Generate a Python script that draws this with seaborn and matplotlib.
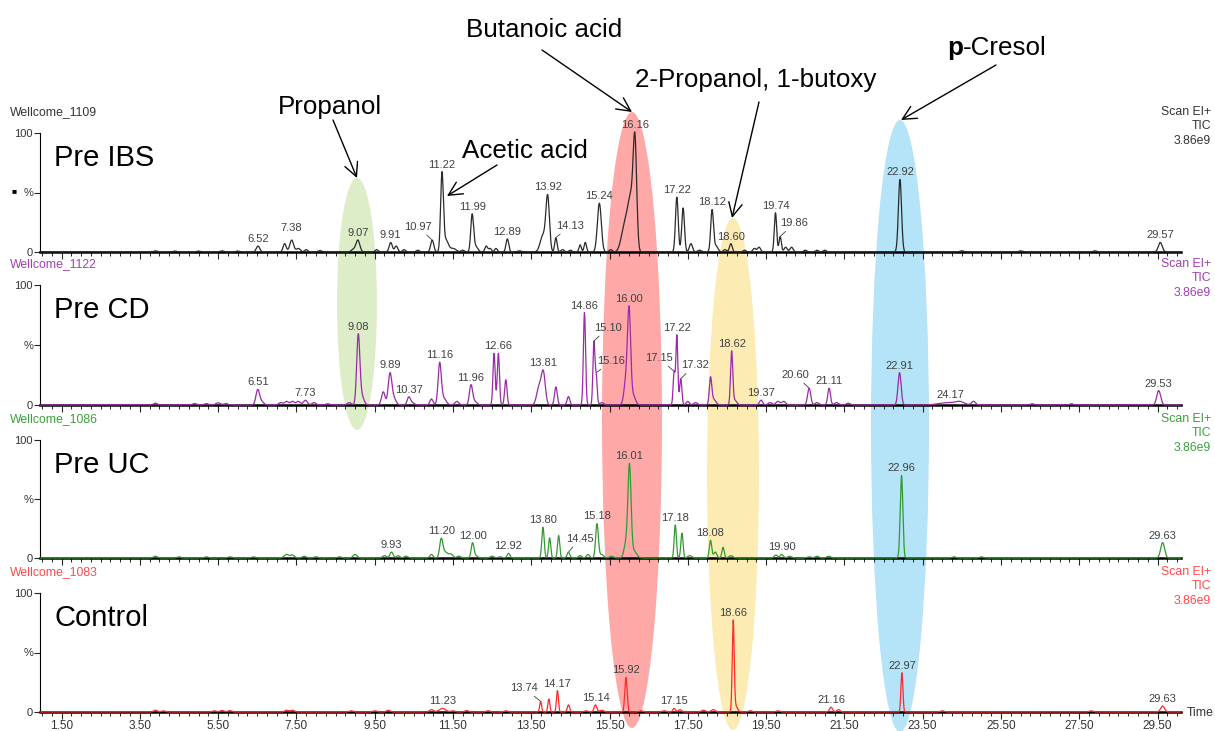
import numpy as np
import pandas as pd
import matplotlib
matplotlib.use("Agg")
import matplotlib.pyplot as plt
import seaborn as sns
from matplotlib.patches import Ellipse

# ------------------------------------------------------------------ data
sample_ids = ["Wellcome_1109", "Wellcome_1122", "Wellcome_1086", "Wellcome_1083"]
group_names = ["Pre IBS", "Pre CD", "Pre UC", "Control"]
scan_lines = ["Scan EI+", "TIC", "3.86e9"]
x_tick_values = [1.5, 3.5, 5.5, 7.5, 9.5, 11.5, 13.5, 15.5, 17.5, 19.5, 21.5, 23.5, 25.5, 27.5, 29.5]
x_tick_labels = ["1.50", "3.50", "5.50", "7.50", "9.50", "11.50", "13.50", "15.50",
                 "17.50", "19.50", "21.50", "23.50", "25.50", "27.50", "29.50"]
y_tick_values = [0, 50, 100]
y_tick_labels = ["0", "%", "100"]

# Pre IBS (Wellcome_1109): retention time (min), relative height (%), peak width (min)
ibs_rt = [3.9, 4.4, 5.0, 5.6, 6.0, 6.52, 7.20, 7.38, 7.55, 7.75, 8.1, 8.95, 9.07, 9.55, 9.91,
          10.05, 10.25, 10.6, 10.97, 11.22, 11.32, 11.5, 11.75, 11.99, 12.07, 12.35, 12.45, 12.6,
          12.89, 13.2, 13.8, 13.92, 14.13, 14.3, 14.5, 14.75, 14.88, 15.24, 15.53, 15.82, 15.92,
          16.05, 16.15, 17.22, 17.38, 17.58, 17.8, 18.12, 18.22, 18.45, 18.60, 18.95, 19.2, 19.32,
          19.74, 19.86, 20.0, 20.15, 20.5, 20.8, 21.0, 22.92, 24.5, 26.0, 27.9, 29.57]
ibs_h = [1.0, 0.8, 0.8, 1.0, 0.8, 5, 7, 10, 3, 2, 1.2, 2, 10, 2, 8,
         5, 2, 1.5, 10, 65, 10, 3, 1.5, 30, 5, 5, 3, 3,
         11, 1, 14, 45, 12, 2, 1.5, 6, 8, 41, 2, 6, 22,
         40, 85, 46, 37, 7, 1.5, 35, 5, 2, 7, 1.5, 3, 4,
         33, 13, 4, 4, 1.5, 1.5, 1.5, 61, 1, 1, 1, 8]
ibs_w = [0.05, 0.05, 0.05, 0.05, 0.05, 0.045, 0.04, 0.05, 0.05, 0.04, 0.05, 0.05, 0.05, 0.04, 0.04,
         0.04, 0.04, 0.04, 0.04, 0.035, 0.06, 0.08, 0.04, 0.035, 0.06, 0.035, 0.035, 0.035,
         0.035, 0.05, 0.07, 0.045, 0.03, 0.04, 0.04, 0.03, 0.03, 0.05, 0.04, 0.07, 0.08,
         0.07, 0.045, 0.035, 0.035, 0.04, 0.05, 0.035, 0.05, 0.04, 0.035, 0.04, 0.04, 0.04,
         0.03, 0.03, 0.04, 0.04, 0.04, 0.04, 0.04, 0.04, 0.05, 0.05, 0.05, 0.05]
ibs_labels = [6.52, 7.38, 9.07, 9.91, 10.97, 11.22, 11.99, 12.89, 13.92, 14.13, 15.24, 16.16,
              17.22, 18.12, 18.60, 19.74, 19.86, 22.92, 29.57]

# Pre CD (Wellcome_1122)
cd_rt = [3.9, 4.9, 5.2, 5.5, 5.7, 6.51, 6.6, 7.1, 7.25, 7.4, 7.55, 7.73, 7.95, 8.3, 8.85,
         9.08, 9.16, 9.72, 9.89, 9.98, 10.37, 10.45, 10.95, 11.16, 11.25, 11.6, 11.96, 12.05,
         12.55, 12.66, 12.85, 13.7, 13.81, 14.13, 14.45, 14.86, 15.10, 15.16, 15.3, 15.92,
         16.00, 16.1, 17.15, 17.22, 17.32, 17.5, 17.7, 18.08, 18.15, 18.62, 18.7, 19.37, 19.6,
         19.8, 19.95, 20.60, 20.8, 21.11, 21.3, 21.6, 22.91, 24.17, 24.45, 24.8, 26.3, 27.3, 29.53]
cd_h = [1.5, 1.2, 1.2, 1.8, 1.2, 12, 3, 2, 3, 3, 3, 4, 2, 1, 2,
        56, 8, 11, 25, 6, 6, 2, 5, 33, 6, 3, 16, 3,
        43, 43, 21, 15, 26, 15, 7, 77, 52, 24, 2, 20,
        75, 8, 27, 58, 22, 3, 2, 21, 5, 44, 4, 4, 2,
        3, 3, 14, 2, 14, 2, 1.5, 27, 2, 2, 3, 1, 1, 12]
cd_w = [0.05, 0.05, 0.05, 0.06, 0.05, 0.045, 0.06, 0.05, 0.05, 0.05, 0.05, 0.05, 0.05, 0.05, 0.05,
        0.04, 0.06, 0.045, 0.045, 0.06, 0.04, 0.06, 0.04, 0.04, 0.07, 0.05, 0.04, 0.06,
        0.028, 0.028, 0.03, 0.06, 0.05, 0.035, 0.035, 0.028, 0.025, 0.025, 0.05, 0.05,
        0.04, 0.06, 0.025, 0.025, 0.028, 0.04, 0.05, 0.03, 0.06, 0.028, 0.05, 0.04, 0.05,
        0.05, 0.05, 0.04, 0.05, 0.035, 0.05, 0.05, 0.04, 0.25, 0.1, 0.05, 0.05, 0.05, 0.05]
cd_labels = [6.51, 7.73, 9.08, 9.89, 10.37, 11.16, 11.96, 12.66, 13.81, 14.86, 15.10, 15.16,
             16.00, 17.15, 17.22, 17.32, 18.62, 19.37, 20.60, 21.11, 22.91, 24.17, 29.53]

# Pre UC (Wellcome_1086)
uc_rt = [3.9, 4.5, 5.2, 5.8, 6.4, 7.25, 7.4, 7.7, 8.0, 8.6, 9.0, 9.75, 9.93, 10.1, 10.3,
         10.95, 11.20, 11.3, 11.45, 11.65, 12.00, 12.07, 12.5, 12.7, 12.92, 13.80, 13.97,
         14.2, 14.45, 14.75, 14.95, 15.18, 15.3, 15.55, 15.92, 16.01, 16.12, 17.18, 17.35,
         17.55, 18.08, 18.2, 18.4, 18.6, 19.75, 19.90, 20.1, 20.6, 20.8, 21.1, 22.96, 24.3,
         25.0, 29.63]
uc_h = [1.5, 1.0, 1.0, 1.0, 1.0, 3, 2.5, 1.5, 1, 1, 3, 2, 5, 2, 1.5,
        3, 15, 5, 3, 1.5, 12, 2, 1.5, 1, 4, 26, 17,
        19, 5, 2, 3, 29, 3, 1.5, 12, 76, 6, 28, 21,
        2, 15, 5, 9, 2, 2.5, 3, 1.5, 1, 1.5, 1.5, 70, 1,
        1, 13]
uc_w = [0.05, 0.05, 0.05, 0.05, 0.05, 0.06, 0.05, 0.05, 0.05, 0.05, 0.05, 0.05, 0.04, 0.04, 0.05,
        0.04, 0.04, 0.07, 0.05, 0.05, 0.035, 0.06, 0.05, 0.05, 0.035, 0.03, 0.028,
        0.028, 0.035, 0.04, 0.04, 0.035, 0.05, 0.05, 0.05, 0.04, 0.07, 0.028, 0.028,
        0.05, 0.03, 0.04, 0.03, 0.05, 0.04, 0.04, 0.05, 0.05, 0.05, 0.05, 0.033, 0.05,
        0.05, 0.05]
uc_labels = [9.93, 11.20, 12.00, 12.92, 13.80, 14.45, 15.18, 16.01, 17.18, 18.08, 19.90, 22.96, 29.63]

# Control (Wellcome_1083)
ctl_rt = [3.9, 4.1, 5.4, 5.6, 5.8, 7.25, 7.4, 8.9, 9.5, 9.85, 10.95, 11.23, 11.5, 11.85,
          12.4, 12.85, 13.74, 13.95, 14.17, 14.45, 14.9, 15.14, 15.3, 15.92, 16.3, 16.9,
          17.15, 17.3, 17.9, 18.15, 18.66, 18.72, 19.1, 19.8, 21.16, 21.35, 22.97, 24.0,
          27.8, 29.63]
ctl_h = [1.5, 1, 1, 1.2, 1.2, 1.5, 1.5, 1, 1, 1.5, 2, 3, 1, 1.2,
         1, 1, 9, 11, 18, 6, 1, 6, 1.5, 29, 1, 1,
         3, 2, 1.5, 2, 75, 5, 1, 1, 4, 2, 33, 1,
         1, 5]
ctl_w = [0.05, 0.05, 0.05, 0.05, 0.05, 0.05, 0.05, 0.05, 0.05, 0.05, 0.05, 0.08, 0.05, 0.05,
         0.05, 0.05, 0.025, 0.025, 0.025, 0.03, 0.05, 0.035, 0.05, 0.03, 0.05, 0.05,
         0.035, 0.04, 0.05, 0.05, 0.025, 0.05, 0.05, 0.05, 0.04, 0.04, 0.025, 0.05,
         0.05, 0.05]
ctl_labels = [11.23, 13.74, 14.17, 15.14, 15.92, 17.15, 18.66, 21.16, 22.97, 29.63]

compound_names = ["Propanol", "Acetic acid", "Butanoic acid", "2-Propanol, 1-butoxy"]

# ------------------------------------------------------------------ style / layout
sns.set_theme(style="white")
plt.rcParams["font.family"] = ["Liberation Sans", "DejaVu Sans"]

W, H = 1215, 731
fig = plt.figure(figsize=(W / 100, H / 100), dpi=100)
fig.patch.set_facecolor("white")


def fx(px):
    return px / W


def fy(py):
    return 1 - py / H


AX_L, AX_R = 40, 1181
X_MIN, X_MAX = 0.95, 30.1
panel_px = [(133, 252), (285, 405), (440, 558), (593, 712)]
trace_colors = ["#2a2a2a", "#9b2aa9", "#2f9b2f", "#ff2a2a"]
head_colors = ["#333333", "#a040b4", "#3aa03a", "#ff4a4a"]
LABEL_COLOR = "#404040"

# label offsets (points) for labels placed beside their peak with a leader line
leader_offsets = [
    {10.97: (-10, 6), 14.13: (10, 5), 19.86: (10, 6)},
    {15.10: (10, 6), 15.16: (11, 5), 17.15: (-11, 6), 17.32: (10, 6), 20.60: (-10, 6)},
    {14.45: (8, 6)},
    {13.74: (-12, 6)},
]
# plain (no leader) label offsets in points
plain_offsets = [{7.38: (0, 5)}, {}, {}, {}]

panels = [
    (ibs_rt, ibs_h, ibs_w, ibs_labels),
    (cd_rt, cd_h, cd_w, cd_labels),
    (uc_rt, uc_h, uc_w, uc_labels),
    (ctl_rt, ctl_h, ctl_w, ctl_labels),
]

# background highlight ellipses (pixel space)
bg = fig.add_axes([0, 0, 1, 1], zorder=0)
bg.set_xlim(0, W)
bg.set_ylim(H, 0)
bg.axis("off")
ellipses = [
    ((357, 304), 40, 252, "#dcedc8"),
    ((632, 420), 60, 616, "#ffa8a8"),
    ((733, 474), 52, 512, "#fdebb4"),
    ((900, 426), 58, 612, "#b5e3f7"),
]
for c, w, h, col in ellipses:
    bg.add_patch(Ellipse(c, w, h, facecolor=col, edgecolor="none"))


def peak_trace(t, rt, h, w):
    rt = np.asarray(rt)[:, None]
    h = np.asarray(h)[:, None]
    w = np.asarray(w)[:, None]
    return (h * np.exp(-0.5 * ((t[None, :] - rt) / w) ** 2)).sum(axis=0)


t = np.linspace(X_MIN, X_MAX, 9000)

for i, ((rt, hh, ww, labels), (top, bot)) in enumerate(zip(panels, panel_px)):
    ax = fig.add_axes([fx(AX_L), fy(bot), (AX_R - AX_L) / W, (bot - top) / H], zorder=2)
    ax.patch.set_alpha(0)
    y = peak_trace(t, rt, hh, ww)
    df = pd.DataFrame({"Time": t, "Intensity": y})
    sns.lineplot(data=df, x="Time", y="Intensity", ax=ax, color=trace_colors[i],
                 lw=0.9, estimator=None, sort=False, zorder=3)
    for ln in ax.lines:
        ln.set_clip_on(False)
    ax.set_xlim(X_MIN, X_MAX)
    ax.set_ylim(0, 100)
    ax.set_xlabel("")
    ax.set_ylabel("")
    for s in ["top", "right"]:
        ax.spines[s].set_visible(False)
    ax.spines["left"].set_linewidth(0.8)
    ax.spines["left"].set_color("black")
    ax.spines["bottom"].set_linewidth(1.8)
    ax.spines["bottom"].set_color("black")
    ax.spines["bottom"].set_zorder(1)

    ax.set_yticks(y_tick_values)
    ax.set_yticklabels(y_tick_labels)
    ax.set_xticks(x_tick_values)
    ax.set_xticks(np.arange(1.0, 30.01, 0.25), minor=True)
    if i == 3:
        ax.set_xticklabels(x_tick_labels)
    else:
        ax.set_xticklabels([])
    ax.tick_params(axis="y", which="major", direction="out", length=4, width=0.8,
                   labelsize=8, labelcolor="#333333", pad=1, left=True)
    ax.tick_params(axis="x", which="major", direction="out", length=5, width=0.8,
                   labelsize=8.5, labelcolor="#333333", pad=1, bottom=True)
    ax.tick_params(axis="x", which="minor", direction="out", length=3, width=0.7, bottom=True)

    # peak retention-time labels
    offs = leader_offsets[i]
    poffs = plain_offsets[i]
    for lab in labels:
        txt = f"{lab:.2f}"
        if lab in offs:
            j = int(np.argmin(np.abs(t - lab)))
            px, py = t[j], y[j]
            ax.annotate(txt, xy=(px, py), xytext=offs[lab], textcoords="offset points",
                        ha="center", va="bottom", fontsize=8, color=LABEL_COLOR,
                        annotation_clip=False,
                        arrowprops=dict(arrowstyle="-", lw=0.6, color=LABEL_COLOR,
                                        shrinkA=0, shrinkB=0.5))
        else:
            m = np.abs(t - lab) < 0.03
            j = int(np.argmax(np.where(m, y, -1)))
            px, py = t[j], y[j]
            ax.annotate(txt, xy=(px, py), xytext=poffs.get(lab, (0, 1.5)),
                        textcoords="offset points",
                        ha="center", va="bottom", fontsize=8, color=LABEL_COLOR,
                        annotation_clip=False)

    # headers
    fig.text(fx(10), fy(top - 21), sample_ids[i], ha="left", va="center",
             fontsize=8.8, color=head_colors[i])
    for k, dy in enumerate([-21, -7, 8]):
        fig.text(fx(1211), fy(top + dy), scan_lines[k], ha="right", va="center",
                 fontsize=8.8, color=head_colors[i])
    fig.text(fx(54), fy(top + 33), group_names[i], ha="left", va="baseline",
             fontsize=21, color="black")

fig.text(fx(11), fy(192), "\u25a0", ha="left", va="center", fontsize=6, color="black")
fig.text(fx(1187), fy(713), "Time", ha="left", va="center", fontsize=8.8, color="#333333")

# annotation overlay
ov = fig.add_axes([0, 0, 1, 1], zorder=5)
ov.set_xlim(0, W)
ov.set_ylim(H, 0)
ov.axis("off")
ov.patch.set_alpha(0)

name_pos = [(330, 114), (525, 158), (544, 37), (756, 87)]
for name, (x0, y0) in zip(compound_names, name_pos):
    ov.text(x0, y0, name, ha="center", va="baseline", fontsize=18.7, color="black")
ov.text(963, 55, "p", ha="right", va="baseline", fontsize=18.7, fontweight="bold", color="black")
ov.text(963, 55, "-Cresol", ha="left", va="baseline", fontsize=18.7, color="black")

arrows = [((333, 120), (357, 178)), ((497, 165), (447, 196)), ((542, 50), (632, 112)),
          ((759, 102), (732, 218)), ((996, 65), (901, 120))]
for tail, head in arrows:
    ov.annotate("", xy=head, xytext=tail,
                arrowprops=dict(arrowstyle="->,head_length=0.7,head_width=0.35", lw=1.0,
                                color="black", shrinkA=0, shrinkB=0, mutation_scale=14))

fig.savefig("out.png", dpi=100, facecolor="white")
